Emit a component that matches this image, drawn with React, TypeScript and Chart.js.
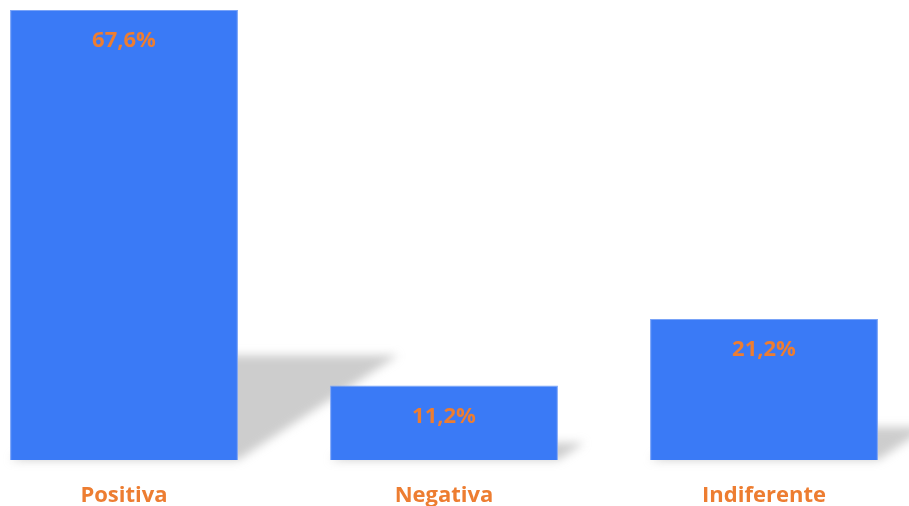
import React, { useEffect, useRef } from "react";
import { Chart, registerables } from "chart.js";

Chart.register(...registerables);

const categories = ["Positiva", "Negativa", "Indiferente"];
const values = [67.6, 11.2, 21.2];
const valueLabels = ["67,6%", "11,2%", "21,2%"];

const BAR_COLOR = "#3A7AF6";
const BAR_BORDER = "#79A3F8";
const ORANGE = "#ED7D31";
const FONT = "'Open Sans', 'Noto Sans', sans-serif";

const shadowPlugin = {
  id: "perspectiveShadow",
  beforeDatasetsDraw(chart: any) {
    const ctx = chart.ctx;
    const meta = chart.getDatasetMeta(0);
    ctx.save();
    ctx.filter = "blur(5px)";
    ctx.fillStyle = "rgba(150,150,150,0.48)";
    meta.data.forEach((bar: any) => {
      const p = bar.getProps(["x", "y", "base", "width"], true);
      const h = p.base - p.y;
      const left = p.x - p.width / 2;
      const right = p.x + p.width / 2;
      const shift = h * 0.356;
      const rise = h * 0.233;
      ctx.beginPath();
      ctx.moveTo(left, p.base);
      ctx.lineTo(right, p.base);
      ctx.lineTo(right + shift, p.base - rise);
      ctx.lineTo(left + shift, p.base - rise);
      ctx.closePath();
      ctx.fill();
    });
    ctx.restore();
  },
};

const labelPlugin = {
  id: "barValueLabels",
  afterDatasetsDraw(chart: any) {
    const ctx = chart.ctx;
    const meta = chart.getDatasetMeta(0);
    ctx.save();
    ctx.font = `bold 22px ${FONT}`;
    ctx.fillStyle = ORANGE;
    ctx.textAlign = "center";
    ctx.textBaseline = "middle";
    meta.data.forEach((bar: any, i: number) => {
      const p = bar.getProps(["x", "y"], true);
      ctx.fillText(valueLabels[i], p.x, p.y + 31);
    });
    ctx.restore();
  },
};

export default function App() {
  const ref = useRef<HTMLCanvasElement | null>(null);

  useEffect(() => {
    document.body.style.overflow = "hidden";
    document.documentElement.style.overflow = "hidden";
    if (!ref.current) return;
    const chart = new Chart(ref.current, {
      type: "bar",
      data: {
        labels: categories,
        datasets: [
          {
            data: values,
            backgroundColor: BAR_COLOR,
            borderColor: BAR_BORDER,
            borderWidth: 1,
            barPercentage: 0.712,
            categoryPercentage: 1,
          },
        ],
      },
      options: {
        animation: false,
        responsive: true,
        maintainAspectRatio: false,
        layout: { padding: { top: 10, left: 0, right: 0, bottom: 0 } },
        plugins: {
          legend: { display: false },
          tooltip: { enabled: false },
        },
        scales: {
          x: {
            grid: { display: false, drawTicks: false },
            border: { display: false },
            ticks: {
              color: ORANGE,
              font: { family: FONT, size: 22, weight: "bold" },
              padding: 23,
              maxRotation: 0,
            },
            afterFit(scale: any) {
              scale.height = 46;
            },
          },
          y: {
            display: false,
            min: 0,
            max: 67.6,
          },
        },
      },
      plugins: [shadowPlugin, labelPlugin],
    });
    return () => chart.destroy();
  }, []);

  return (
    <div
      style={{
        position: "fixed",
        left: -36.5,
        top: 0,
        width: 960,
        height: 506,
        background: "#fff",
      }}
    >
      <canvas ref={ref} />
    </div>
  );
}
